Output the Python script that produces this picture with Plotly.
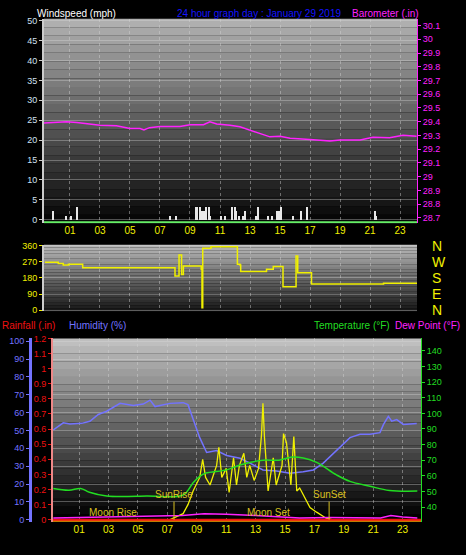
import plotly.graph_objects as go

# ---- top panel: wind speed (bars) and barometer ----
wind_hour = [-0.1, 0.78, 1.05, 1.45, 7.67, 8.1, 9.38, 9.5, 9.67, 9.8, 9.93, 10.07, 10.25, 10.33,
             11.05, 11.33, 11.82, 12.0, 12.1, 12.3, 12.56, 12.67, 13.38, 13.56, 14.18, 14.51,
             14.84, 14.96, 15.1, 15.85, 16.4, 16.78, 21.33, 21.44]
wind_mph = [2.2, 1, 1, 3.3, 1, 1, 3.3, 3.3, 3.3, 2.2, 2.2, 3.3, 3.3, 1,
            1, 1, 3.3, 3.3, 2.2, 1, 1, 2.2, 1, 3.3, 1, 1,
            2.2, 2.2, 3.3, 1, 2.2, 3.3, 2.2, 1]

baro_hour = [-0.73, 0.78, 1.45, 3, 4.1, 5, 5.67, 5.93, 6.3, 7, 8.33, 9, 9.9, 10.33, 10.78,
             11.67, 12.33, 13, 13.67, 14.33, 15, 15.67, 17, 18.33, 19, 20.33, 21.2, 22.3, 23.2, 24.1]
baro_in = [29.39, 29.4, 29.395, 29.375, 29.37, 29.35, 29.35, 29.34, 29.357, 29.365, 29.365,
           29.378, 29.378, 29.4, 29.383, 29.375, 29.363, 29.338, 29.318, 29.29, 29.295, 29.28,
           29.27, 29.26, 29.267, 29.267, 29.287, 29.283, 29.302, 29.295]

# ---- middle panel: wind direction ----
dir_hour = [-0.67, 0.22, 0.55, 0.9, 1.78, 1.85, 7.9, 8.0, 8.2, 8.27, 8.38, 8.44, 8.56, 9.67,
            9.75, 9.8, 9.85, 10.4, 12.07, 12.16, 12.33, 12.38, 13.67, 14.1, 14.55, 15.1, 15.2,
            16.0, 16.07, 16.18, 16.95, 17.1, 20.78, 21.9, 24.2]
dir_deg = [268, 262, 253, 257, 257, 238, 238, 191, 191, 309, 309, 200, 247, 247,
           229, 13, 347, 356, 356, 257, 253, 216, 216, 229, 244, 244, 131,
           131, 304, 210, 210, 146, 146, 150, 146]

# ---- bottom panel ----
hum_hour = [-0.76, -0.08, 0.37, 1.17, 1.73, 2.3, 2.87, 3.78, 4.68, 5.36, 5.82, 6.16, 7.18, 8.07,
            8.4, 8.75, 9.2, 9.67, 10.35, 11.03, 11.94, 12.62, 13.5, 14.43, 15.34, 16.24, 16.93,
            17.6, 18.5, 19.42, 20.1, 20.78, 21.46, 21.7, 22.03, 22.26, 22.6, 23.05, 23.96]
hum_pct = [50.3, 54.3, 53.7, 54, 55.2, 59, 60.8, 65.2, 64, 64.8, 67, 63.4, 65.2, 65.6,
           64.5, 56, 46, 37.7, 38.8, 36, 34.4, 31.7, 27.9, 27.3, 26, 26.9, 27.9,
           31.7, 38.8, 46, 47.9, 47.9, 48.8, 53.4, 57.9, 55.2, 56.1, 53.4, 53.9]

temp_hour = [-0.76, 0.3, 1.1, 1.7, 2.87, 5.6, 8.07, 8.75, 9.2, 9.6, 11.03, 11.94, 13.5, 14.6,
             15.5, 16.24, 17.15, 18.5, 19.42, 20.78, 22.1, 24.0]
temp_f = [51.9, 50.8, 51.9, 49.4, 47, 47, 47.7, 55.6, 59.6, 61.7, 63.8, 66.9, 70, 70,
          72, 71.4, 68.6, 60.6, 56.4, 53.3, 50.6, 50.2]

dew_hour = [-0.76, 2, 5.6, 8, 9.5, 11, 13, 14.5, 16, 18, 20, 21.5, 22.2, 23, 24.0]
dew_f = [33, 33.5, 34.6, 34.6, 35.6, 35.4, 34.6, 33.6, 33, 33.2, 33, 33, 34.6, 33.6, 33]

solar_hour = [-0.78, 7.18, 8.07, 8.4, 8.75, 9.2, 9.4, 9.6, 9.9, 10.35, 10.5, 10.7, 11.0, 11.2,
              11.5, 11.7, 11.9, 12.2, 12.4, 12.6, 12.9, 13.2, 13.4, 13.5, 13.6, 13.85, 14.2,
              14.4, 14.8, 14.9, 15.1, 15.4, 15.6, 15.8, 16.0, 16.3, 16.7, 17.15, 17.8, 18.2, 24.2]
solar_val = [0, 0, 0.04, 0.1, 0.19, 0.28, 0.4, 0.28, 0.23, 0.36, 0.48, 0.28, 0.34, 0.18,
             0.41, 0.23, 0.36, 0.44, 0.28, 0.36, 0.26, 0.34, 0.56, 0.77, 0.55, 0.19, 0.41,
             0.23, 0.36, 0.57, 0.51, 0.23, 0.55, 0.19, 0.21, 0.15, 0.08, 0.05, 0.01, 0, 0]

rain_hour = [-0.78, 24.25]
rain_in = [0, 0]

hour_ticks = list(range(1, 24, 2))
hour_labels = ["%02d" % h for h in hour_ticks]

W, H = 466, 555
FONT = "Liberation Sans"
YEL = "#f0f000"
MAG = "#ff22ff"
BLUE = "#7373ff"
GREEN = "#22dd22"
RED = "#ee1111"


def px(x):
    return x / W


def py(y):
    return 1 - y / H


fig = go.Figure()

fig.add_trace(go.Bar(x=wind_hour, y=wind_mph, width=0.09, marker=dict(color="#e8e8e8", line_width=0),
                     xaxis="x", yaxis="y"))
fig.add_trace(go.Scatter(x=[-0.73, 24.13], y=[-0.6, -0.6], mode="lines", line=dict(color="#66ee66", width=2),
                         xaxis="x", yaxis="y"))
fig.add_trace(go.Scatter(x=baro_hour, y=baro_in, mode="lines", line=dict(color=MAG, width=1.5),
                         xaxis="x", yaxis="y2"))
fig.add_trace(go.Scatter(x=dir_hour, y=dir_deg, mode="lines", line=dict(color=YEL, width=1.5, shape="hv"),
                         xaxis="x2", yaxis="y3"))
fig.add_trace(go.Scatter(x=hum_hour, y=hum_pct, mode="lines", line=dict(color=BLUE, width=1.5),
                         xaxis="x3", yaxis="y4"))
fig.add_trace(go.Scatter(x=temp_hour, y=temp_f, mode="lines", line=dict(color=GREEN, width=1.5, shape="spline"),
                         xaxis="x3", yaxis="y6"))
fig.add_trace(go.Scatter(x=dew_hour, y=dew_f, mode="lines", line=dict(color=MAG, width=1.5),
                         xaxis="x3", yaxis="y6"))
fig.add_trace(go.Scatter(x=solar_hour, y=solar_val, mode="lines", line=dict(color=YEL, width=1.3),
                         xaxis="x3", yaxis="y5"))
fig.add_trace(go.Scatter(x=rain_hour, y=[v - 0.008 for v in rain_in], mode="lines",
                         line=dict(color="#ffa500", width=2), xaxis="x3", yaxis="y5"))
fig.add_trace(go.Scatter(x=rain_hour, y=rain_in, mode="lines", line=dict(color=RED, width=2),
                         xaxis="x3", yaxis="y5"))

# gradient backgrounds
panels = [("x", "y", 0.69, 0.03), ("x2", "y3", 0.72, 0.1), ("x3", "y4", 0.75, 0.0)]
n = 24
for xr, yr, top, bot in panels:
    for i in range(n):
        g = int(255 * (top + (bot - top) * i / (n - 1)))
        fig.add_shape(type="rect", xref=xr + " domain", yref=yr + " domain",
                      x0=0, x1=1, y0=1 - (i + 1) / n, y1=1 - i / n,
                      fillcolor="rgb(%d,%d,%d)" % (g, g, g), line_width=0, layer="below")

grid = dict(showgrid=True, gridcolor="rgba(210,210,210,0.45)", griddash="dot", gridwidth=1)
xcommon = dict(tickvals=hour_ticks, ticktext=hour_labels, tickfont=dict(color=YEL, size=10),
               ticks="", zeroline=False, showline=False, **grid)

fig.update_layout(
    width=W, height=H, margin=dict(l=0, r=0, t=0, b=0),
    paper_bgcolor="black", plot_bgcolor="black", showlegend=False,
    font=dict(family=FONT, size=10, color="white"), bargap=0,
    xaxis=dict(domain=[px(44), px(417)], range=[-0.73, 24.13], anchor="y", **xcommon),
    xaxis2=dict(domain=[px(44), px(417)], range=[-0.73, 24.13], anchor="y3", showticklabels=False,
                **{k: v for k, v in xcommon.items() if k not in ("tickvals", "ticktext", "tickfont")},
                tickvals=hour_ticks),
    xaxis3=dict(domain=[px(53), px(421)], range=[-0.78, 24.25], anchor="y4", **xcommon),
    yaxis=dict(domain=[py(222), py(12)], range=[-0.9, 50.5], dtick=5, anchor="x",
               tickfont=dict(size=9, color="#d0e0f0"), showline=True, linecolor="#cccccc", linewidth=2,
               tickcolor="#cccccc", showgrid=True, gridcolor="rgba(220,220,220,0.35)",
               ticks="outside", ticklen=3, zeroline=False),
    yaxis2=dict(overlaying="y", side="right", anchor="x", range=[28.66, 30.15],
                tickvals=[28.7 + 0.1 * i for i in range(15)],
                ticktext=["28.7", "28.8", "28.9", "29", "29.1", "29.2", "29.3", "29.4", "29.5",
                          "29.6", "29.7", "29.8", "29.9", "30", "30.1"],
                tickfont=dict(size=9, color=MAG), showline=True, linecolor=MAG, tickcolor=MAG,
                showgrid=False, ticks="outside", ticklen=3, zeroline=False),
    yaxis3=dict(domain=[py(312), py(244)], range=[-6, 366], tickvals=[0, 90, 180, 270, 360],
                anchor="x2", tickfont=dict(size=9, color=YEL), showline=True, linecolor="#cccccc",
                linewidth=2, tickcolor=YEL, showgrid=True, gridcolor="rgba(220,220,220,0.35)",
                ticks="outside", ticklen=3, zeroline=False),
    yaxis7=dict(overlaying="y3", side="right", anchor="x2", range=[-6, 366],
                tickvals=[0, 90, 180, 270, 360], ticktext=["N", "E", "S", "W", "N"],
                tickfont=dict(size=14, color=YEL), ticks="", ticklabelstandoff=14,
                showgrid=False, zeroline=False),
    yaxis4=dict(domain=[py(528), py(340)], range=[-1.1, 101.6], dtick=10, anchor="free",
                position=px(30), tickfont=dict(size=9, color=BLUE), showline=True, linecolor=BLUE,
                linewidth=3, tickcolor=BLUE, showgrid=True, gridcolor="rgba(220,220,220,0.35)",
                ticks="outside", ticklen=3, zeroline=False),
    yaxis5=dict(overlaying="y4", anchor="free", position=px(52), side="left", range=[-0.013, 1.2],
                dtick=0.1, tickfont=dict(size=9, color=RED), showline=True, linecolor="#ee8888",
                linewidth=2, tickcolor=RED, showgrid=False, ticks="outside", ticklen=3, zeroline=False),
    yaxis6=dict(overlaying="y4", side="right", anchor="x3", range=[30.6, 148],
                tickvals=list(range(40, 141, 10)), tickfont=dict(size=9, color=GREEN),
                showline=True, linecolor=GREEN, tickcolor=GREEN, showgrid=False,
                ticks="outside", ticklen=3, zeroline=False),
)

fig.add_trace(go.Scatter(x=[None], y=[None], xaxis="x2", yaxis="y7"))

ann = [
    ("Windspeed (mph)", 35, 7, "white", "left"),
    ("24 hour graph day : January 29 2019", 259, 7, "#1414ff", "center"),
    ("Barometer (.in)", 421, 7, MAG, "right"),
    ("Rainfall (.in)", 0, 327, RED, "left"),
    ("Humidity (%)", 67, 327, BLUE, "left"),
    ("Temperature (°F)", 312, 327, GREEN, "left"),
    ("Dew Point (°F)", 462, 327, MAG, "right"),
]
for text, x, y, col, al in ann:
    fig.add_annotation(text=text, x=px(x), y=py(y), xref="paper", yref="paper", xanchor=al,
                       yanchor="middle", showarrow=False, font=dict(size=10, color=col, family=FONT))

events = [("SunRise", 7.45, 0.12, True), ("SunSet", 18.0, 0.12, True),
          ("Moon Rise", 3.3, 0.0, False), ("Moon Set", 13.9, 0.0, False)]
for text, h, v, line in events:
    fig.add_annotation(text=text, x=h, y=v, xref="x3", yref="y5", showarrow=False, yanchor="bottom",
                       font=dict(size=10, color="#d8c020", family=FONT))
    if line:
        fig.add_shape(type="line", xref="x3", yref="y5", x0=h, x1=h, y0=0, y1=v,
                      line=dict(color="#d8c020", width=1))

fig.write_html("out.html", config={"displayModeBar": False},
               post_script="document.body.style.margin='0';")
